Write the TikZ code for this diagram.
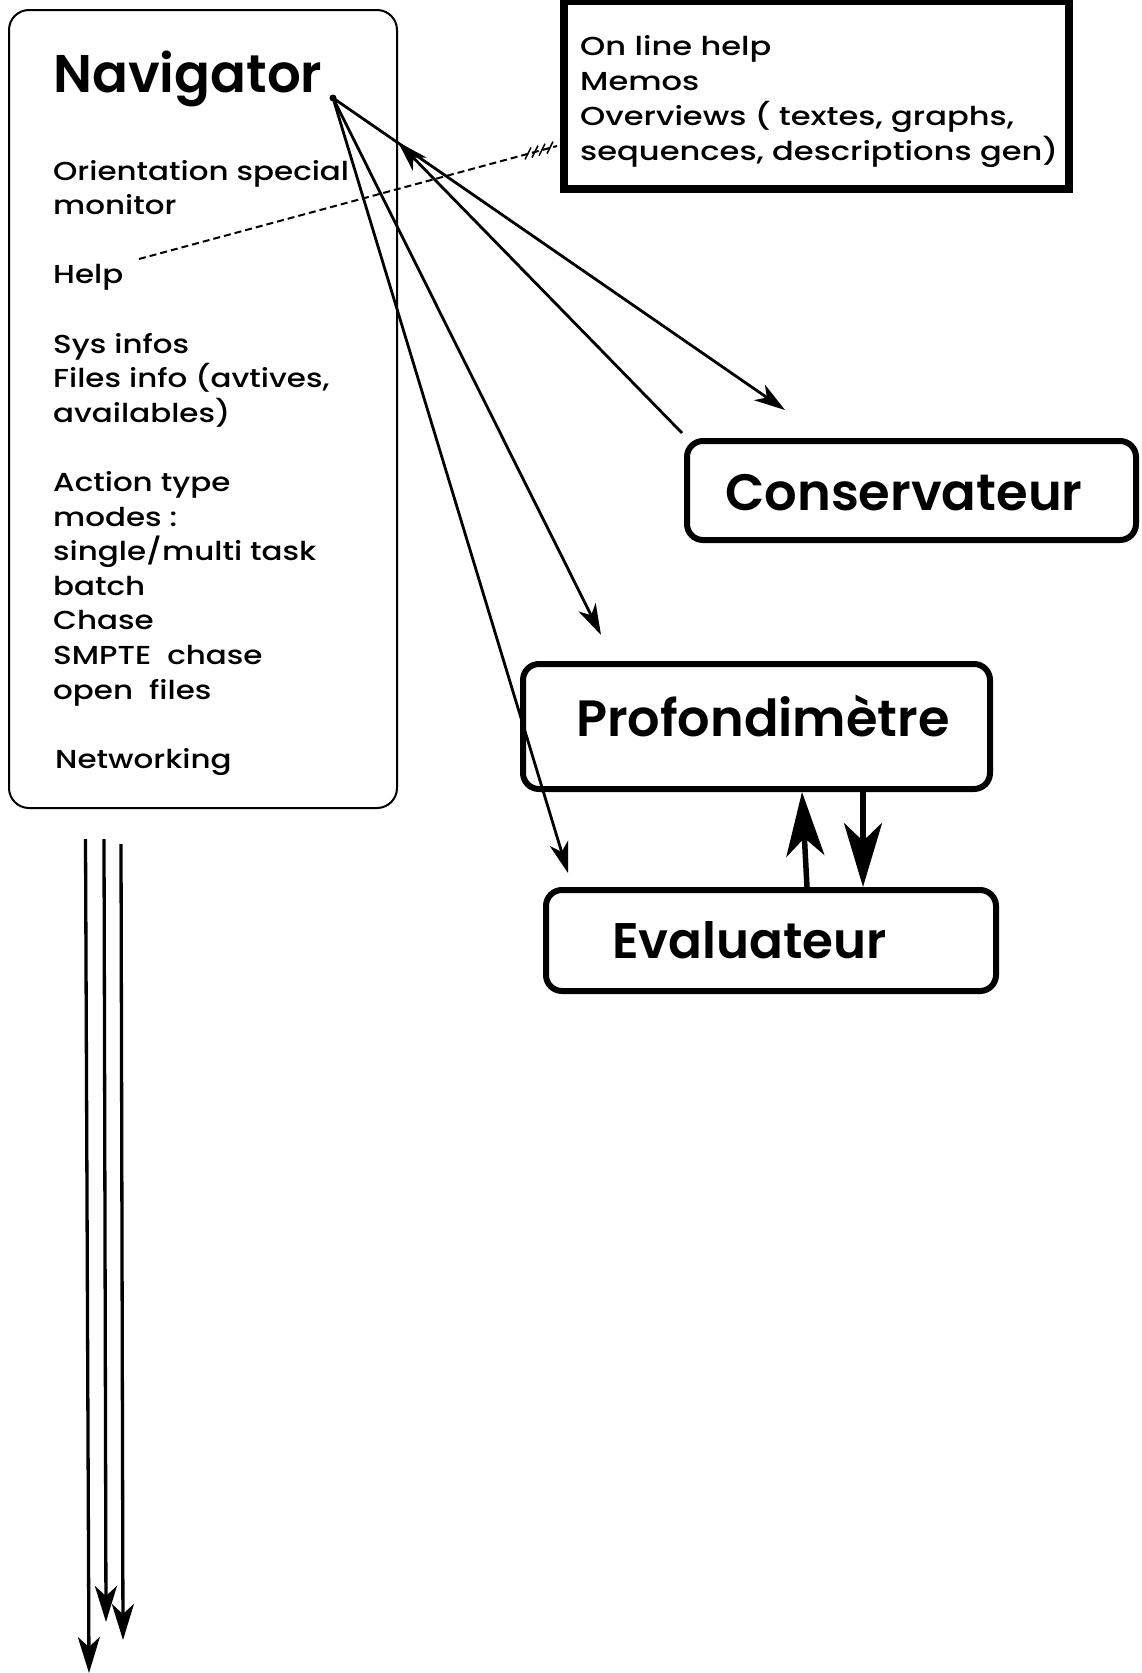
\documentclass[tikz,border=0pt]{standalone}
\usepackage{fontspec}
\setmainfont{Poppins}
\newfontfamily\bodyfont{Poppins Medium}[FakeStretch=1.19]
\newfontfamily\helpfont{Poppins Medium}[FakeStretch=1.235]
\newfontfamily\titlefont{Poppins SemiBold}
\usetikzlibrary{arrows.meta}
\begin{document}
\begin{tikzpicture}[x=1pt,y=-1pt,
  navbox/.style={draw, line width=2pt, rounded corners=20pt, inner sep=0pt, minimum width=388pt, minimum height=798pt},
  helpbox/.style={draw, line width=8pt, inner sep=0pt, minimum width=505pt, minimum height=188pt},
  modbox/.style={draw, line width=6pt, rounded corners=16pt, inner sep=0pt},
  bodytxt/.style={anchor=base west, inner sep=0pt, font=\bodyfont\fontsize{26}{30}\selectfont},
  helptxt/.style={anchor=base west, inner sep=0pt, font=\helpfont\fontsize{26}{30}\selectfont},
  bigtxt/.style={anchor=base west, inner sep=0pt, font=\titlefont\fontsize{#1}{60}\selectfont},
  bigtxt/.default=51,
  thinarrow/.style={line width=2.8pt, -{Stealth[length=31pt,width=19pt,inset=9pt]}},
  longarrow/.style={line width=3.3pt, -{Stealth[length=36pt,width=22pt,inset=10pt]}},
  thickarrow/.style={line width=5.5pt, -{Stealth[length=64pt,width=38pt,inset=18pt]}},
  dashline/.style={line width=2pt, dash pattern=on 7pt off 4pt}
]
\useasboundingbox (0,0) rectangle (1141,1673);

% boxes
\node[navbox] (nav) at (203,409) {};
\node[helpbox] (hbox) at (816.5,95) {};
\node[modbox, minimum width=449pt, minimum height=99pt] (cons) at (911.5,490.5) {};
\node[modbox, minimum width=467pt, minimum height=125pt] (prof) at (756.5,726.5) {};
\node[modbox, minimum width=450pt, minimum height=101pt] (eval) at (771,940.5) {};

% Navigator texts
\node[bigtxt=53] (navt) at (53,92) {Navigator};
\node[bodytxt] (l0) at (53,180) {Orientation special};
\node[bodytxt] (l1) at (53,214.6) {monitor};
\node[bodytxt] (l3) at (53,283.8) {Help};
\node[bodytxt] (l5) at (53,353) {Sys infos};
\node[bodytxt] (l6) at (53,387.6) {Files info (avtives,};
\node[bodytxt] (l7) at (53,422.2) {availables)};
\node[bodytxt] (l9) at (53,491.4) {Action type};
\node[bodytxt] (l10) at (53,526) {modes :};
\node[bodytxt] (l11) at (53,560.6) {single/multi task};
\node[bodytxt] (l12) at (53,595.2) {batch};
\node[bodytxt] (l13) at (53,629.8) {Chase};
\node[bodytxt] (l14) at (53,664.4) {SMPTE\ \ chase};
\node[bodytxt] (l15) at (53,699) {open\ \ files};
\node[bodytxt] (l17) at (55,768.2) {Networking};

% help box texts
\node[helptxt] (h1) at (580,55.5) {On line help};
\node[helptxt] (h2) at (580,90.5) {Memos};
\node[helptxt] (h3) at (580,125.5) {Overviews ( textes, graphs,};
\node[helptxt] (h4) at (580,160.5) {sequences, descriptions gen)};

% module labels
\node[bigtxt=51.2] (ct) at (725,510) {Conservateur};
\node[bigtxt=51] (pt) at (576,736) {Profondimètre};
\node[bigtxt=50] (et) at (612,958) {Evaluateur};

% connector points
\coordinate (o) at (333,98);
\coordinate (tipC) at (785,410);
\coordinate (tipP) at (601,635);
\coordinate (tipE) at (568,873);
\coordinate (tipB) at (398,142);
\coordinate (helpend) at (139,259);
\coordinate (hboxend) at (557,146);

\fill (o) circle (3.5);
\draw[thinarrow] (o) -- (tipC);
\draw[thinarrow] ([shift={(-2,-5)}]cons.north west) -- (tipB);
\draw[thinarrow] (o) -- (tipP);
\draw[thinarrow] (o) -- (tipE);

% dashed link Help -> help box
\draw[dashline] (helpend) -- (hboxend);
\foreach \hx/\hy in {528/153.5, 535/151.6, 542/149.7, 550/147.6}
  \draw[line width=1.5pt] (\hx-3,\hy+6) -- (\hx+3,\hy-6);

% Profondimetre <-> Evaluateur
\draw[thickarrow] ([xshift=36pt]eval.north) -- ([xshift=45.5pt]prof.south);
\draw[thickarrow] ([xshift=106.5pt]prof.south) -- ([xshift=92pt]eval.north);

% long arrows down
\coordinate (a1s) at (85.5,839);
\coordinate (a1e) at (89,1673);
\coordinate (a2s) at (104,839);
\coordinate (a2e) at (106,1622);
\coordinate (a3s) at (121,844);
\coordinate (a3e) at (123,1640);
\draw[longarrow] (a1s) -- (a1e);
\draw[longarrow] (a2s) -- (a2e);
\draw[longarrow] (a3s) -- (a3e);
\end{tikzpicture}
\end{document}
